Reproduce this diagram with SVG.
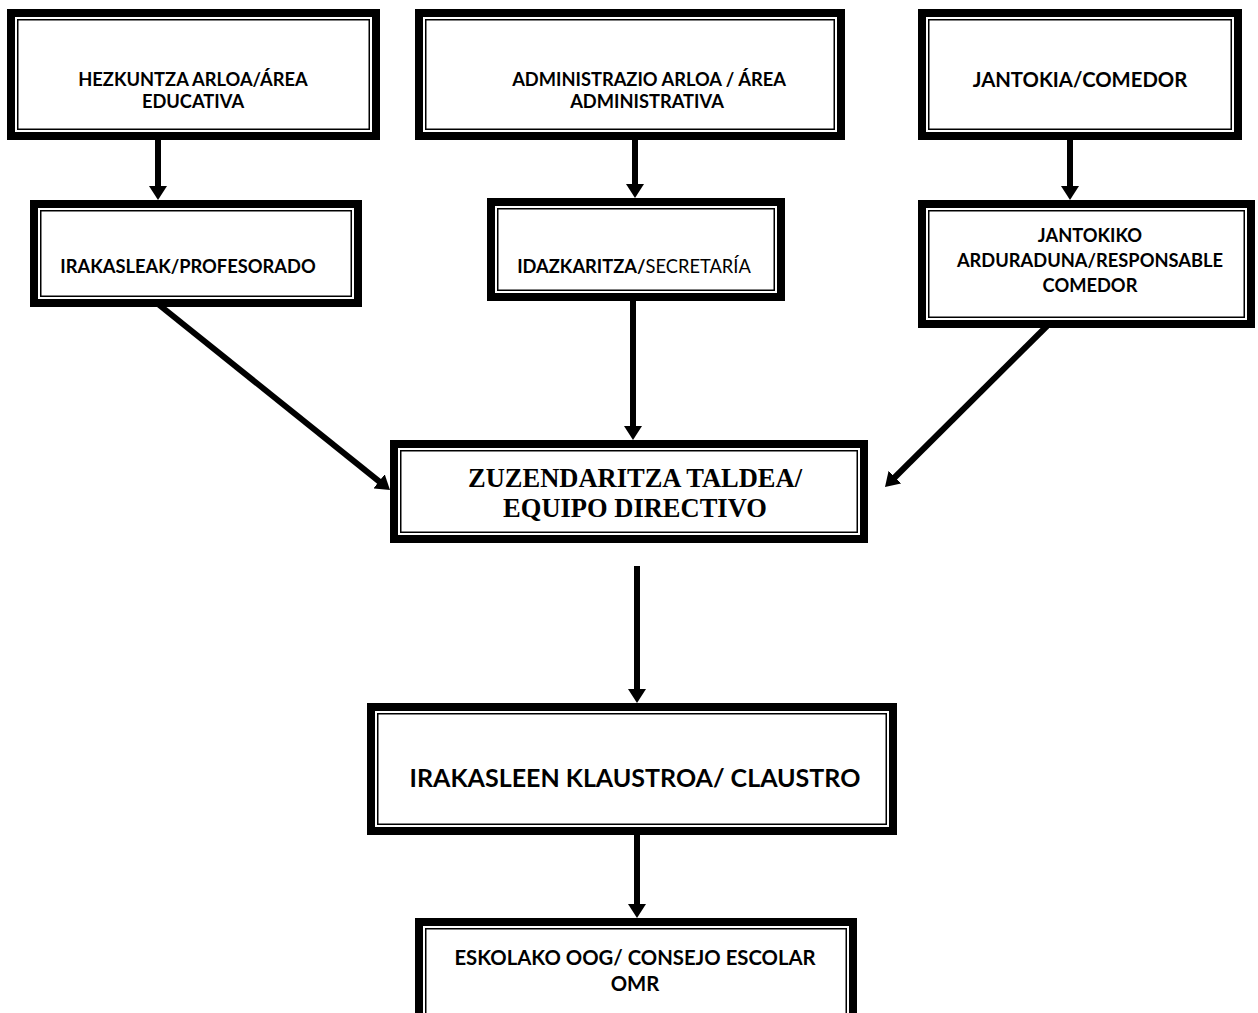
<svg xmlns="http://www.w3.org/2000/svg" width="1258" height="1013" viewBox="0 0 1258 1013">
<defs>
<style>
.outer{fill:#fff;stroke:#000;stroke-width:8}
.inner{fill:none;stroke:#000;stroke-width:1.5}
.t{font-family:Lato,"Liberation Sans",sans-serif;font-weight:bold;fill:#000;text-anchor:middle;font-size:18.3px}
.b{font-size:20.3px}
.m{font-size:25px}
.tr{font-family:"Liberation Serif","Times New Roman",serif;font-weight:bold;font-size:26.5px;fill:#000;text-anchor:middle}
.c{fill:none;stroke:#000;stroke-width:6}
</style>
<marker id="ah" markerUnits="userSpaceOnUse" markerWidth="14" markerHeight="18" refX="4" refY="9" orient="auto">
<path d="M0,0 L14,9 L0,18 z" fill="#000"/>
</marker>
</defs>
<rect width="1258" height="1013" fill="#fff"/>
<g id="connectors">
<line class="c" x1="158" y1="140" x2="158" y2="190" marker-end="url(#ah)"/>
<line class="c" x1="635" y1="140" x2="635" y2="188" marker-end="url(#ah)"/>
<line class="c" x1="1070" y1="140" x2="1070" y2="190" marker-end="url(#ah)"/>
<line class="c" x1="158" y1="304" x2="382.2" y2="483.8" marker-end="url(#ah)"/>
<line class="c" x1="633" y1="300" x2="633" y2="430" marker-end="url(#ah)"/>
<line class="c" x1="1047" y1="326" x2="892.1" y2="480" marker-end="url(#ah)"/>
<line class="c" x1="637" y1="566" x2="637" y2="693" marker-end="url(#ah)"/>
<line class="c" x1="637" y1="835" x2="637" y2="908" marker-end="url(#ah)"/>
</g>
<g id="hezkuntza">
<rect class="outer" x="11" y="13" width="365" height="123"/>
<rect class="inner" x="17.75" y="19.75" width="351.5" height="109.5"/>
<text class="t" x="193" y="86">HEZKUNTZA ARLOA/ÁREA</text>
<text class="t" x="193" y="108">EDUCATIVA</text>
</g>
<g id="irakasleak">
<rect class="outer" x="34" y="204" width="324" height="99"/>
<rect class="inner" x="40.75" y="210.75" width="310.5" height="85.5"/>
<text class="t" x="188" y="273">IRAKASLEAK/PROFESORADO</text>
</g>
<g id="administrazio">
<rect class="outer" x="419" y="13" width="422" height="123"/>
<rect class="inner" x="425.75" y="19.75" width="408.5" height="109.5"/>
<text class="t" x="649" y="86">ADMINISTRAZIO ARLOA / ÁREA</text>
<text class="t" x="647" y="108">ADMINISTRATIVA</text>
</g>
<g id="idazkaritza">
<rect class="outer" x="491" y="202" width="290" height="95"/>
<rect class="inner" x="497.75" y="208.75" width="276.5" height="81.5"/>
<text class="t" x="634" y="273">IDAZKARITZA/<tspan font-weight="normal">SECRETARÍA</tspan></text>
</g>
<g id="jantokia">
<rect class="outer" x="922" y="13" width="316" height="123"/>
<rect class="inner" x="928.75" y="19.75" width="302.5" height="109.5"/>
<text class="t b" x="1080" y="87">JANTOKIA/COMEDOR</text>
</g>
<g id="jantokiko">
<rect class="outer" x="922" y="204" width="329" height="120"/>
<rect class="inner" x="928.75" y="210.75" width="315.5" height="106.5"/>
<text class="t" x="1090" y="242">JANTOKIKO</text>
<text class="t" x="1090" y="267">ARDURADUNA/RESPONSABLE</text>
<text class="t" x="1090" y="292">COMEDOR</text>
</g>
<g id="zuzendaritza">
<rect class="outer" x="394" y="444" width="470" height="95"/>
<rect class="inner" x="400.75" y="450.75" width="456.5" height="81.5"/>
<text class="tr" x="635" y="487">ZUZENDARITZA TALDEA/</text>
<text class="tr" x="635" y="517">EQUIPO DIRECTIVO</text>
</g>
<g id="klaustroa">
<rect class="outer" x="371" y="707" width="522" height="124"/>
<rect class="inner" x="377.75" y="713.75" width="508.5" height="110.5"/>
<text class="t m" x="635" y="787">IRAKASLEEN KLAUSTROA/ CLAUSTRO</text>
</g>
<g id="eskolako">
<rect class="outer" x="419" y="922" width="434" height="110"/>
<rect class="inner" x="425.75" y="928.75" width="420.5" height="100"/>
<text class="t b" x="635" y="965">ESKOLAKO OOG/ CONSEJO ESCOLAR</text>
<text class="t b" x="635" y="991">OMR</text>
</g>
</svg>
